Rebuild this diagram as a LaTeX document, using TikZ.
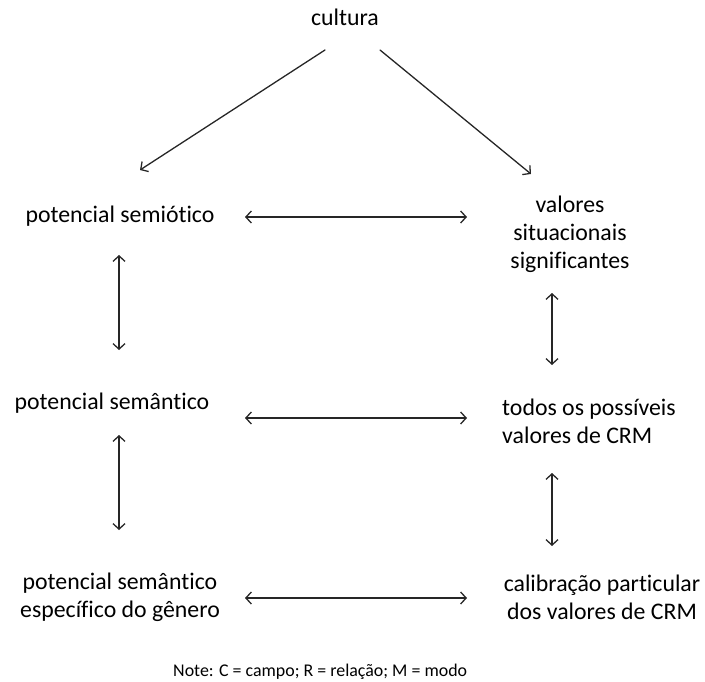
\documentclass[tikz,border=0pt]{standalone}
\usepackage{fontspec}
\setmainfont{Carlito}[Ligatures=NoCommon]
\usetikzlibrary{calc,arrows.meta}

\begin{document}
\begin{tikzpicture}[x=1pt, y=-1pt, line cap=round,
    txt/.style={inner sep=0pt, align=center, font=\fontsize{23.8}{28}\selectfont},
    arr/.style={draw=black!85, line width=1.3pt, -{Straight Barb[length=5.5pt,width=12pt]}},
    dup/.style={arr, {Straight Barb[length=5.5pt,width=12pt]}-{Straight Barb[length=5.5pt,width=12pt]}}]
        \useasboundingbox (0,0) rectangle (705,682);

        % topo
        \node[txt] (cultura) at (345,17) {cultura};

        % coluna da esquerda
        \node[txt] (semiotico) at (120,216) {potencial semiótico};
        \node[txt] (semantico) at (112,403) {potencial semântico};
        \node[txt] (genero) at (120,597) {potencial semântico\\específico do gênero};

        % coluna da direita
        \node[txt] (valores) at (570,234) {valores\\situacionais\\significantes};
        \node[txt, align=left] (todos) at (589,421) {todos os possíveis\\valores de CRM};
        \node[txt] (calibracao) at (602,597) {calibração particular\\dos valores de CRM};

        % nota
        \node[inner sep=0pt, anchor=west, font=\fontsize{17.9}{21}\selectfont] (nota) at (173,672) {Note: C = campo; R = relação; M = modo};

        % setas a partir de cultura
        \draw[arr] ($(cultura)+(-20,33)$) -- ($(semiotico)+(20,-46)$);
        \draw[arr] ($(cultura)+(35,33)$) -- ($(valores)+(-39,-60)$);

        % setas horizontais
        \draw[dup] ($(semiotico)+(125,1)$) -- ($(valores)+(-103,-17)$);
        \draw[dup] ($(semantico)+(133,15)$) -- ($(todos)+(-122,-3)$);
        \draw[dup] ($(genero)+(125,1)$) -- ($(calibracao)+(-135,1)$);

        % setas verticais
        \draw[dup] ($(semiotico)+(-1,39)$) -- ($(semantico)+(7,-53)$);
        \draw[dup] ($(semantico)+(7,32)$) -- ($(genero)+(-1,-67)$);
        \draw[dup] ($(valores)+(-18,59)$) -- ($(todos)+(-37,-56)$);
        \draw[dup] ($(todos)+(-37,52)$) -- ($(calibracao)+(-50,-51)$);
    \end{tikzpicture}
\end{document}
